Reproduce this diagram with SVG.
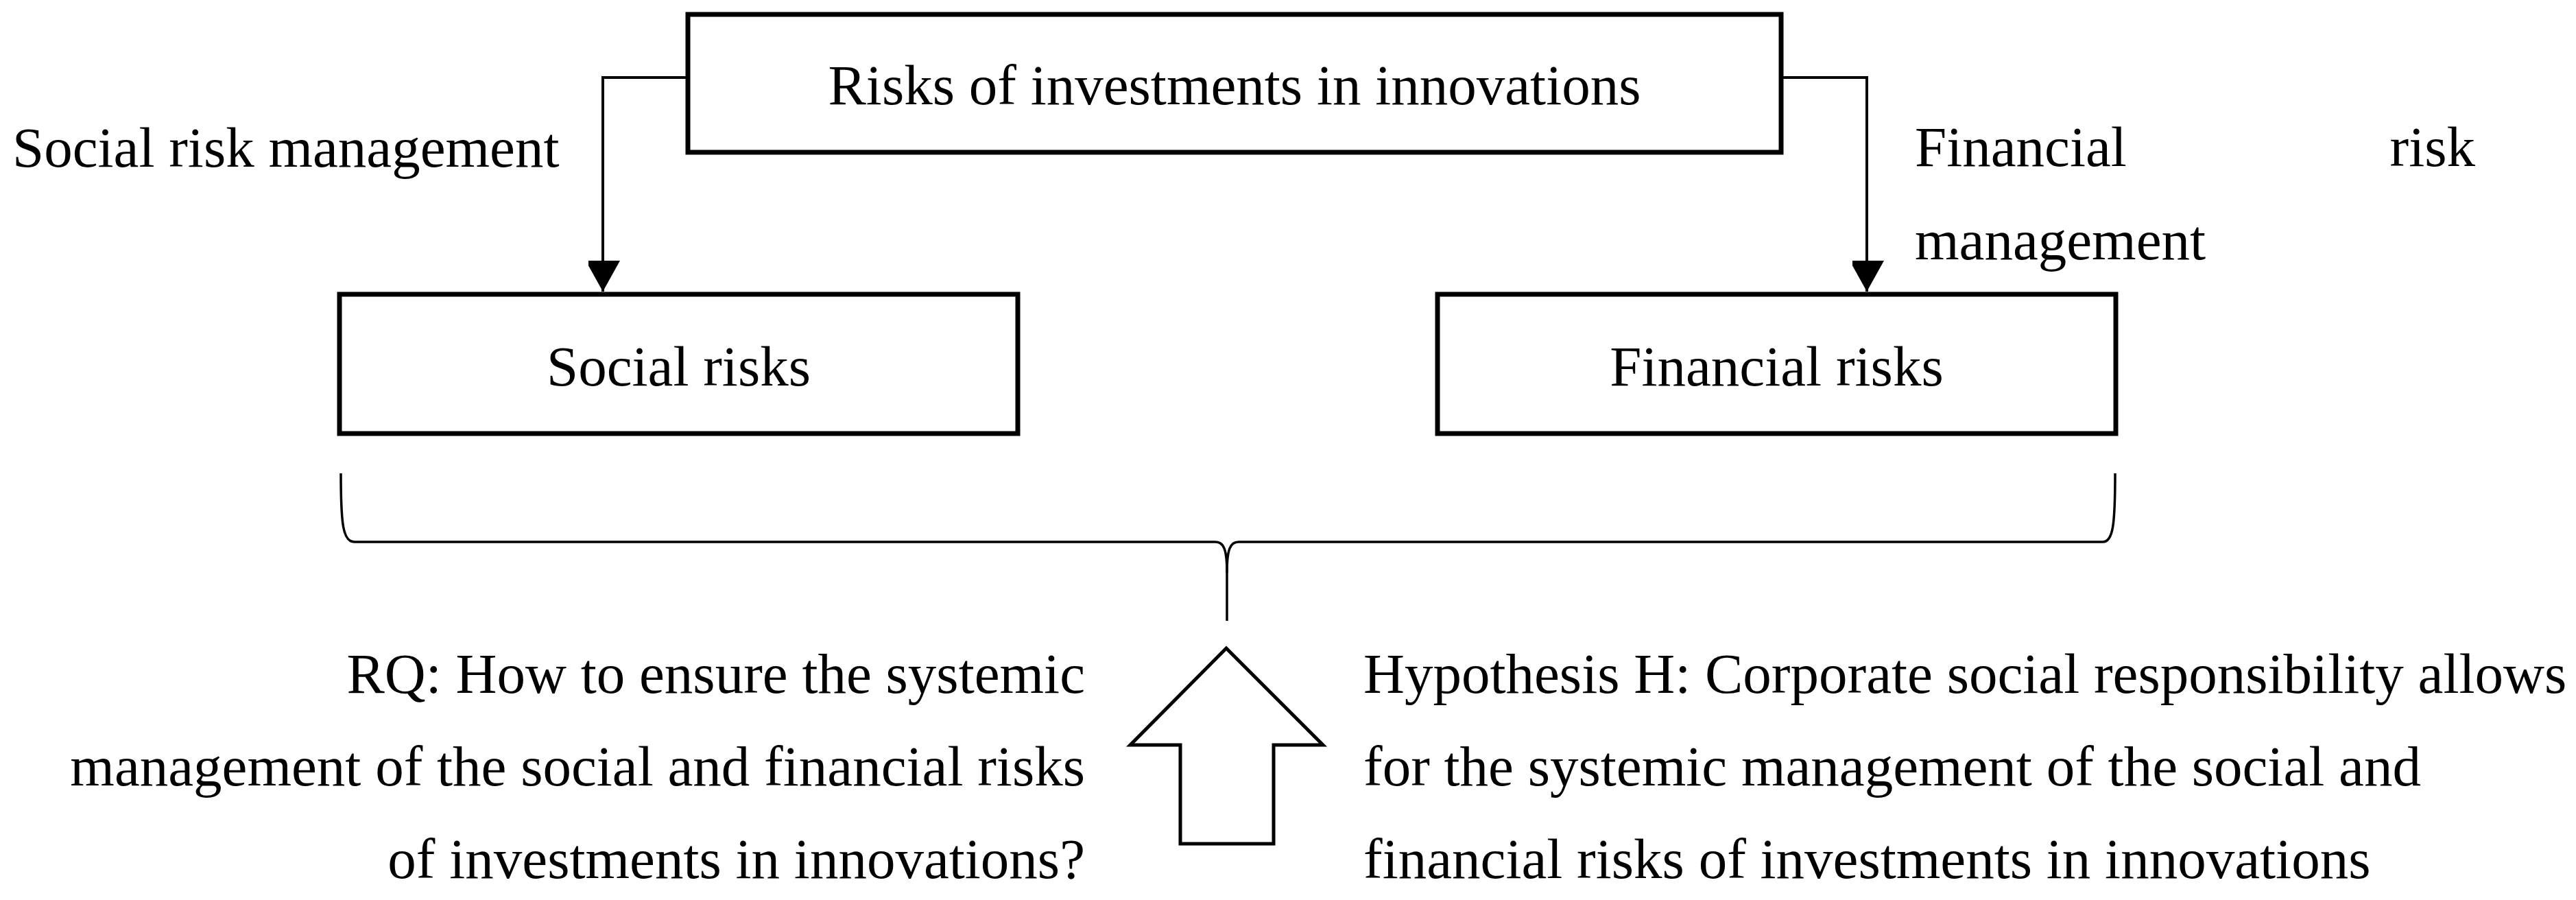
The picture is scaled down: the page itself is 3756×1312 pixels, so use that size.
<svg xmlns="http://www.w3.org/2000/svg" width="3756" height="1312" viewBox="0 0 3756 1312">
<style>
  text { font-family: "Liberation Serif", "Times New Roman", serif; font-size: 83px; fill: #000; }
  .box { fill: #fff; stroke: #000; stroke-width: 7; }
  .conn { fill: none; stroke: #000; stroke-width: 4; }
  .brace { fill: none; stroke: #000; stroke-width: 3.5; }
  .bigarrow { fill: #fff; stroke: #000; stroke-width: 5; stroke-linejoin: miter; }
</style>
<defs>
  <marker id="ah" markerUnits="userSpaceOnUse" markerWidth="50" markerHeight="46" refX="45" refY="25" orient="auto">
    <path d="M0,0 L45,25 L0,50 Z" fill="#000"/>
  </marker>
</defs>
<rect width="3756" height="1312" fill="#fff"/>

<g id="connectors">
  <path class="conn" d="M1003,113 L879,113 L879,425" marker-end="url(#ah)"/>
  <path class="conn" d="M2597,113 L2722,113 L2722,425" marker-end="url(#ah)"/>
  <path class="brace" d="M497,690 C497,765 500,790 517,790 L1772,790 C1784,790 1789,800 1789,835 L1789,905"/>
  <path class="brace" d="M3084,690 C3084,765 3081,790 3066,790 L1806,790 C1794,790 1789,800 1789,835"/>
</g>

<g id="node-top">
  <rect class="box" x="1003" y="21" width="1594" height="201"/>
  <text x="1800" y="152" text-anchor="middle">Risks of investments in innovations</text>
</g>

<g id="label-social-mgmt">
  <text x="18" y="243">Social risk management</text>
</g>

<g id="label-financial-mgmt">
  <text x="2792" y="242">Financial</text>
  <text x="3609" y="242" text-anchor="end">risk</text>
  <text x="2792" y="378">management</text>
</g>

<g id="node-social">
  <rect class="box" x="495" y="429" width="989" height="203"/>
  <text x="989.5" y="562" text-anchor="middle">Social risks</text>
</g>

<g id="node-financial">
  <rect class="box" x="2096" y="429" width="989" height="203"/>
  <text x="2590.5" y="562" text-anchor="middle">Financial risks</text>
</g>

<g id="up-arrow">
  <path class="bigarrow" d="M1788,945 L1929,1086 L1857,1086 L1857,1230 L1721,1230 L1721,1086 L1648,1086 Z"/>
</g>

<g id="rq">
  <text x="1582" y="1010" text-anchor="end">RQ: How to ensure the systemic</text>
  <text x="1582" y="1145" text-anchor="end">management of the social and financial risks</text>
  <text x="1582" y="1280" text-anchor="end">of investments in innovations?</text>
</g>

<g id="hypothesis">
  <text x="1988" y="1010">Hypothesis H: Corporate social responsibility allows</text>
  <text x="1988" y="1145">for the systemic management of the social and</text>
  <text x="1988" y="1280">financial risks of investments in innovations</text>
</g>
</svg>
